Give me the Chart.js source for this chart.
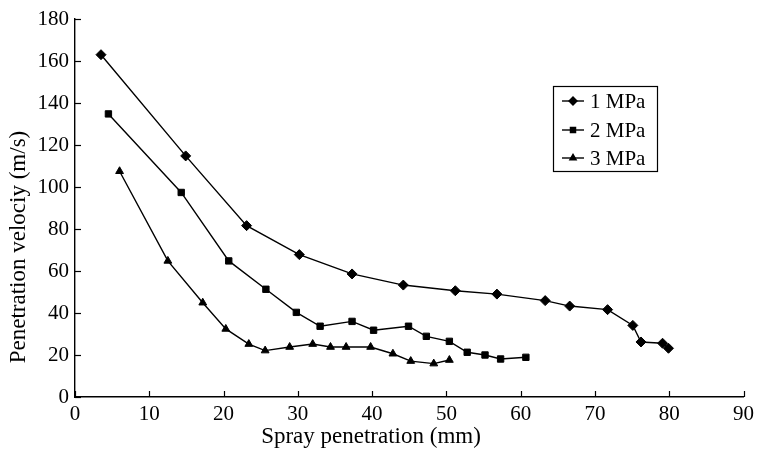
<!DOCTYPE html>
<html>
<head>
<meta charset="utf-8">
<script src="https://cdn.jsdelivr.net/npm/chart.js@4/dist/chart.umd.min.js"></script>
<style>
  html, body { margin: 0; padding: 0; background: #fff; }
  #wrap { width: 759px; height: 450px; position: relative; }
</style>
</head>
<body>
<div id="wrap"><canvas id="c" width="759" height="450"></canvas></div>
<script>
const seriesNames = ["1 MPa", "2 MPa", "3 MPa"];
const s1X = [3.5, 14.9, 23.1, 30.2, 37.3, 44.2, 51.2, 56.8, 63.3, 66.6, 71.7, 75.1, 76.2, 79.1, 79.9];
const s1Y = [163, 114.8, 81.6, 67.8, 58.6, 53.3, 50.6, 49, 45.9, 43.3, 41.6, 34.1, 26.2, 25.6, 23.2];
const s2X = [4.5, 14.3, 20.7, 25.7, 29.8, 33.0, 37.3, 40.2, 44.9, 47.3, 50.4, 52.8, 55.2, 57.3, 60.7];
const s2Y = [134.8, 97.4, 64.8, 51.3, 40.3, 33.7, 36, 31.8, 33.7, 28.9, 26.5, 21.3, 20, 18.1, 18.9];
const s3X = [6, 12.5, 17.2, 20.3, 23.4, 25.6, 28.9, 32.0, 34.4, 36.5, 39.8, 42.8, 45.2, 48.3, 50.4];
const s3Y = [107.5, 64.8, 44.9, 32.4, 25.2, 22.1, 23.8, 25.2, 23.8, 23.8, 23.8, 20.6, 17.1, 15.9, 17.6];
const xTicks = [0, 10, 20, 30, 40, 50, 60, 70, 80, 90];
const yTicks = [0, 20, 40, 60, 80, 100, 120, 140, 160, 180];
const xTitle = "Spray penetration (mm)";
const yTitle = "Penetration velociy (m/s)";

const FONT = "'Liberation Serif', 'Times New Roman', serif";
const toPts = (xs, ys) => xs.map((x, i) => ({ x: x, y: ys[i] }));

const styles = [
  { pointStyle: 'rectRot', radius: 5 },
  { pointStyle: 'rect', radius: 4.5 },
  { pointStyle: 'triangle', radius: 4.5 }
];
const seriesData = [toPts(s1X, s1Y), toPts(s2X, s2Y), toPts(s3X, s3Y)];

const datasets = seriesData.map((d, i) => ({
  label: seriesNames[i],
  data: d,
  borderColor: '#000',
  backgroundColor: '#000',
  borderWidth: 1.4,
  pointStyle: styles[i].pointStyle,
  pointRadius: styles[i].radius,
  pointBorderWidth: 1,
  pointBackgroundColor: '#000',
  pointBorderColor: '#000',
  showLine: true,
  tension: 0,
  fill: false
}));

const decor = {
  id: 'decor',
  afterDraw(chart) {
    const ctx = chart.ctx;
    const xs = chart.scales.x, ys = chart.scales.y;
    const area = chart.chartArea;
    ctx.save();
    ctx.strokeStyle = '#000';
    ctx.lineWidth = 1.2;
    // inward tick marks
    xTicks.forEach(v => {
      const px = Math.round(xs.getPixelForValue(v)) + 0.5;
      ctx.beginPath(); ctx.moveTo(px, area.bottom); ctx.lineTo(px, area.bottom - 6); ctx.stroke();
    });
    yTicks.forEach(v => {
      const py = Math.round(ys.getPixelForValue(v)) + 0.5;
      ctx.beginPath(); ctx.moveTo(area.left, py); ctx.lineTo(area.left + 6, py); ctx.stroke();
    });
    // axis titles
    ctx.fillStyle = '#000';
    ctx.font = "23px " + FONT;
    ctx.textAlign = 'center';
    ctx.textBaseline = 'middle';
    ctx.fillText(xTitle, 371, 437);
    ctx.save();
    ctx.translate(19, 247);
    ctx.rotate(-Math.PI / 2);
    ctx.fillText(yTitle, 0, 0);
    ctx.restore();
    // legend
    const bx = 553, by = 86, bw = 104, bh = 85;
    ctx.lineWidth = 1.2;
    ctx.strokeRect(bx + 0.5, by + 0.5, bw, bh);
    ctx.font = "21px " + FONT;
    ctx.textAlign = 'left';
    const rowY = [101, 130, 158];
    chart.data.datasets.forEach((ds, i) => {
      const y = rowY[i];
      ctx.lineWidth = 1.4;
      ctx.beginPath(); ctx.moveTo(562, y); ctx.lineTo(584, y); ctx.stroke();
      Chart.helpers.drawPoint(ctx, {
        pointStyle: ds.pointStyle, radius: ds.pointRadius * 0.8, borderWidth: 1, rotation: 0
      }, 573, y);
      ctx.fillText(ds.label, 590, y + 1);
    });
    ctx.restore();
  }
};

new Chart(document.getElementById('c'), {
  type: 'scatter',
  data: { datasets: datasets },
  options: {
    responsive: false,
    animation: false,
    devicePixelRatio: 1,
    layout: { padding: { top: 19, right: 12, left: 0, bottom: 0 } },
    plugins: { legend: { display: false }, tooltip: { enabled: false } },
    scales: {
      x: {
        type: 'linear', min: 0, max: 90,
        afterBuildTicks: s => { s.ticks = xTicks.map(v => ({ value: v })); },
        afterFit: s => { s.height = 53; },
        grid: { display: true, drawOnChartArea: false, drawTicks: false },
        border: { display: true, color: '#000', width: 1.4 },
        ticks: { color: '#000', font: { family: FONT, size: 21 }, padding: 5, maxRotation: 0, autoSkip: false }
      },
      y: {
        type: 'linear', min: 0, max: 180,
        afterBuildTicks: s => { s.ticks = yTicks.map(v => ({ value: v })); },
        afterFit: s => { s.width = 75; },
        grid: { display: true, drawOnChartArea: false, drawTicks: false },
        border: { display: true, color: '#000', width: 1.4 },
        ticks: { color: '#000', font: { family: FONT, size: 21 }, padding: 6, autoSkip: false }
      }
    }
  },
  plugins: [decor]
});
</script>
</body>
</html>
